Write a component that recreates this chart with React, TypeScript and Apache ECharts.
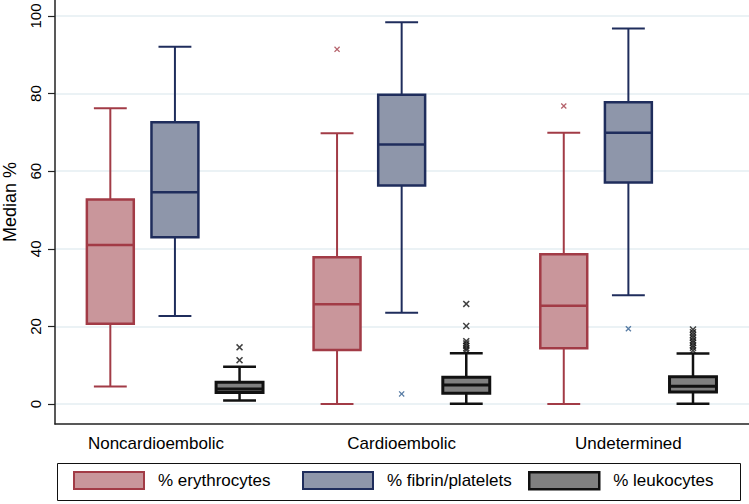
import React, { useEffect, useRef } from "react";
import * as echarts from "echarts";

const categories = ["Noncardioembolic", "Cardioembolic", "Undetermined"];
const seriesNames = ["% erythrocytes", "% fibrin/platelets", "% leukocytes"];
const yTicks = [0, 20, 40, 60, 80, 100];

// [lower whisker, Q1, median, Q3, upper whisker] per category
const erythrocytes = [
  [4.5, 20.7, 41.0, 52.7, 76.2],
  [0, 13.9, 25.7, 37.8, 69.8],
  [0, 14.4, 25.3, 38.6, 69.9],
];
const fibrinPlatelets = [
  [22.7, 43.0, 54.6, 72.6, 92.1],
  [23.5, 56.3, 66.9, 79.7, 98.4],
  [28.0, 57.1, 69.9, 77.8, 96.8],
];
const leukocytes = [
  [0.9, 3.0, 3.9, 5.6, 9.6],
  [0.1, 2.8, 4.9, 6.9, 13.1],
  [0.1, 3.1, 4.6, 7.0, 13.0],
];

// [category index, value]
const erythrocyteOutliers = [
  [1, 91.4],
  [2, 76.8],
];
const fibrinOutliers = [
  [1, 2.6],
  [2, 19.4],
];
const leukocyteOutliers = [
  [0, 14.6],
  [0, 11.3],
  [1, 25.8],
  [1, 20.1],
  [1, 16.2],
  [1, 15.6],
  [1, 15.0],
  [1, 14.4],
  [1, 13.9],
  [2, 19.2],
  [2, 18.5],
  [2, 17.8],
  [2, 17.1],
  [2, 16.4],
  [2, 15.8],
  [2, 15.1],
  [2, 14.5],
  [2, 13.8],
];

const RED_STROKE = "#a23b46";
const RED_FILL = "#c9969b";
const BLUE_STROKE = "#1f2d5c";
const BLUE_FILL = "#8e96aa";
const GRAY_STROKE = "#111111";
const GRAY_FILL = "#808080";

const OFFSET = 0.285;
const BOX_W = 0.207;
const CAP_W = 0.145;
const FONT = "'Liberation Sans', Arial, sans-serif";

const XMARK =
  "path://M1.5,0 L5,3.5 L8.5,0 L10,1.5 L6.5,5 L10,8.5 L8.5,10 L5,6.5 L1.5,10 L0,8.5 L3.5,5 L0,1.5 Z";

function makeRenderer(offset: number, stroke: string, fill: string, boxLw: number, whiskerLw: number) {
  return (params: any, api: any) => {
    const unit = api.size([1, 0])[0];
    const x = api.value(0) + offset;
    const pMin = api.coord([x, api.value(1)]);
    const pQ1 = api.coord([x, api.value(2)]);
    const pMed = api.coord([x, api.value(3)]);
    const pQ3 = api.coord([x, api.value(4)]);
    const pMax = api.coord([x, api.value(5)]);
    const cx = pMed[0];
    const bw = unit * BOX_W;
    const cw = unit * CAP_W;
    const ws = { stroke, lineWidth: whiskerLw };
    return {
      type: "group",
      children: [
        { type: "line", shape: { x1: cx, y1: pMax[1], x2: cx, y2: pQ3[1] }, style: ws },
        { type: "line", shape: { x1: cx, y1: pQ1[1], x2: cx, y2: pMin[1] }, style: ws },
        { type: "line", shape: { x1: cx - cw / 2, y1: pMax[1], x2: cx + cw / 2, y2: pMax[1] }, style: ws },
        { type: "line", shape: { x1: cx - cw / 2, y1: pMin[1], x2: cx + cw / 2, y2: pMin[1] }, style: ws },
        {
          type: "rect",
          shape: { x: cx - bw / 2, y: pQ3[1], width: bw, height: pQ1[1] - pQ3[1] },
          style: { fill, stroke, lineWidth: boxLw },
        },
        {
          type: "line",
          shape: { x1: cx - bw / 2, y1: pMed[1], x2: cx + bw / 2, y2: pMed[1] },
          style: { stroke, lineWidth: boxLw },
        },
      ],
    };
  };
}

export default function App() {
  const ref = useRef<HTMLDivElement>(null);
  useEffect(() => {
    if (!ref.current) return;
    const chart = echarts.init(ref.current, null, { renderer: "svg" });
    const boxSeries = (name: string, data: number[][], offset: number, stroke: string, fill: string, boxLw: number, wLw: number) => ({
      name,
      type: "custom",
      data: data.map((d, i) => [i, ...d]),
      encode: { x: 0, y: [1, 2, 3, 4, 5] },
      itemStyle: { color: fill, borderColor: stroke },
      renderItem: makeRenderer(offset, stroke, fill, boxLw, wLw),
      z: 3,
    });
    const outlierSeries = (name: string, data: number[][], offsetPx: number, color: string, size: number) => ({
      name,
      type: "scatter",
      data,
      symbol: XMARK,
      symbolSize: size,
      symbolOffset: [offsetPx, 0],
      itemStyle: { color },
      z: 4,
    });
    const legendFor = (name: string, left: number, color: string, borderColor: string, bw: number) => ({
      left,
      top: 471,
      padding: 0,
      itemWidth: 70,
      itemHeight: 17,
      icon: "rect",
      textStyle: { fontSize: 17, color: "#000", fontFamily: FONT, padding: [0, 0, 0, 9] },
      data: [{ name, itemStyle: { color, borderColor, borderWidth: bw } }],
    });
    chart.setOption({
      animation: false,
      backgroundColor: "#ffffff",
      textStyle: { fontFamily: FONT },
      grid: { left: 55, right: 0, top: 0, bottom: 80, outerBoundsMode: "none" },
      xAxis: {
        type: "value",
        min: -0.529,
        max: 2.532,
        axisLine: { show: true, onZero: false, lineStyle: { color: "#222", width: 1.5 } },
        axisTick: { show: false },
        splitLine: { show: false },
        axisLabel: {
          customValues: [0, 1, 2],
          formatter: (v: number) => {
            const i = Math.round(v);
            return i === 0 ? "{first|" + categories[0] + "}" : categories[i] ?? "";
          },
          rich: { first: { fontSize: 17, fontFamily: FONT, color: "#000", padding: [0, 38, 0, 0] } },
          fontSize: 17,
          color: "#000",
          margin: 11,
          fontFamily: FONT,
        },
      },
      yAxis: {
        type: "value",
        min: -5.15,
        max: 104.12,
        axisLine: { show: true, onZero: false, lineStyle: { color: "#222", width: 1.5 } },
        axisTick: { show: true, length: 7, customValues: yTicks, lineStyle: { color: "#222", width: 1.2 } },
        splitLine: { show: true, lineStyle: { color: "#e4eef2", width: 1.5 } },
        axisLabel: {
          customValues: yTicks,
          rotate: 90,
          fontSize: 15,
          color: "#000",
          margin: 12,
          fontFamily: FONT,
        },
      },
      legend: [
        legendFor(seriesNames[0], 73, RED_FILL, RED_STROKE, 2),
        legendFor(seriesNames[1], 302, BLUE_FILL, BLUE_STROKE, 2),
        legendFor(seriesNames[2], 528, GRAY_FILL, GRAY_STROKE, 2.5),
      ],
      graphic: [
        {
          type: "rect",
          shape: { x: 57.5, y: 463.5, width: 683, height: 37 },
          style: { fill: "none", stroke: "#111", lineWidth: 1 },
          silent: true,
        },
        {
          type: "text",
          x: 10,
          y: 202,
          rotation: Math.PI / 2,
          style: {
            text: "Median %",
            fontSize: 18,
            fontFamily: FONT,
            fill: "#000",
            textAlign: "center",
            textVerticalAlign: "middle",
          },
        },
      ],
      series: [
        boxSeries(seriesNames[0], erythrocytes, -OFFSET, RED_STROKE, RED_FILL, 2.5, 2),
        boxSeries(seriesNames[1], fibrinPlatelets, 0, BLUE_STROKE, BLUE_FILL, 2.5, 2),
        boxSeries(seriesNames[2], leukocytes, OFFSET, GRAY_STROKE, GRAY_FILL, 3, 2.5),
        outlierSeries("erythrocyte outliers", erythrocyteOutliers, -64.6, RED_STROKE, 6),
        outlierSeries("fibrin outliers", fibrinOutliers, 0, "#2f5d8f", 6),
        outlierSeries("leukocyte outliers", leukocyteOutliers, 64.6, "#111", 7),
      ],
    });
    return () => chart.dispose();
  }, []);
  return (
    <div
      ref={ref}
      style={{ position: "fixed", left: 0, top: 0, width: 749, height: 504, background: "#fff" }}
    />
  );
}
